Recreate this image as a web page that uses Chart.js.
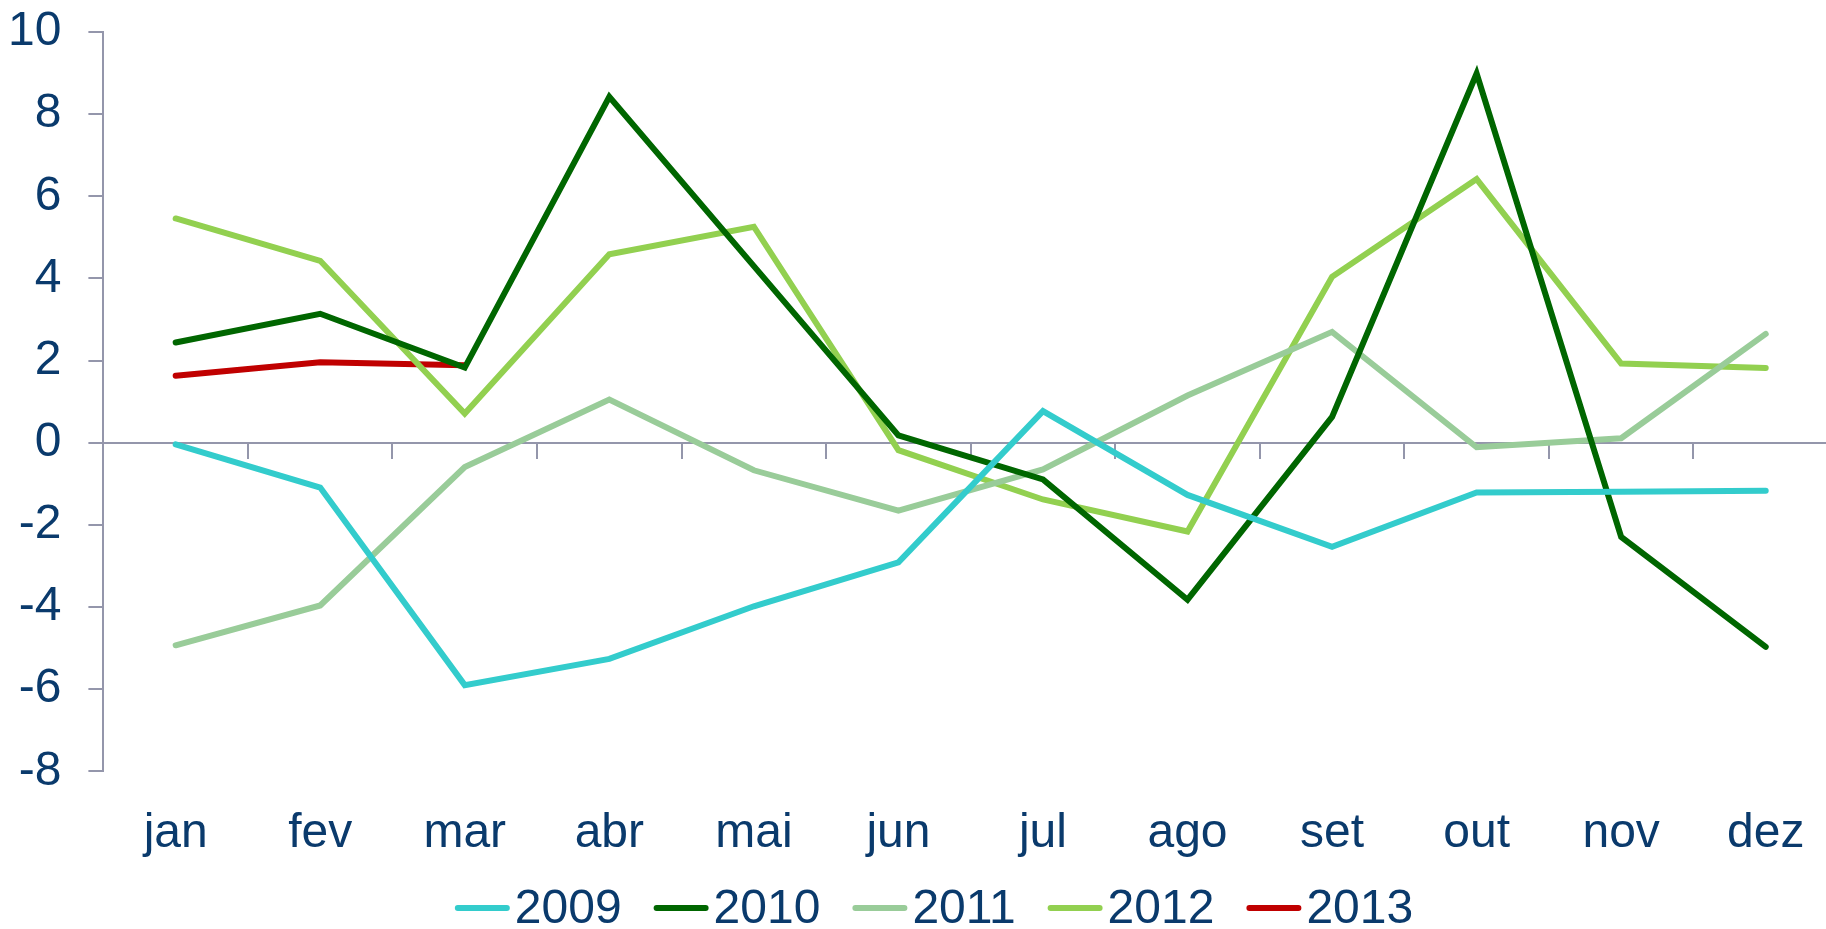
<!DOCTYPE html>
<html><head><meta charset="utf-8">
<script src="https://cdn.jsdelivr.net/npm/chart.js@4/dist/chart.umd.min.js"></script>
<style>
html,body{margin:0;padding:0;overflow:hidden;background:#fff;width:1826px;height:929px;}
#wrap{position:relative;width:1840px;height:929px;}
canvas{display:block;}
</style></head><body>
<div id="wrap"><canvas id="c" width="1840" height="929"></canvas></div>
<script>
const months = ['jan','fev','mar','abr','mai','jun','jul','ago','set','out','nov','dez'];
const yTicks = [-8,-6,-4,-2,0,2,4,6,8,10];
const seriesNames = ['2009','2010','2011','2012','2013'];
const s2009 = [-0.04,-1.09,-5.90,-5.26,-3.98,-2.91,0.77,-1.27,-2.53,-1.21,-1.19,-1.17];
const s2010 = [2.44,3.14,1.83,8.42,4.30,0.18,-0.89,-3.82,0.63,8.99,-2.29,-4.97];
const s2011 = [-4.93,-3.96,-0.59,1.05,-0.67,-1.65,-0.65,1.15,2.70,-0.11,0.11,2.65];
const s2012 = [5.46,4.43,0.71,4.59,5.26,-0.18,-1.38,-2.16,4.04,6.42,1.93,1.82];
const s2013 = [1.63,1.96,1.89];
const colors = ['#33cccc','#006600','#99cc99','#92d050','#c00000'];

const textColor = '#0a3a6c';
const axisColor = '#9496ab';
const fontFamily = '"Liberation Sans", Arial, sans-serif';
const fontSize = 48;

const allSeries = [s2009, s2010, s2011, s2012, s2013];

const legendPlugin = {
  id: 'customLegend',
  afterDraw(chart) {
    const ctx = chart.ctx;
    ctx.save();
    ctx.font = fontSize + 'px ' + fontFamily;
    const lineLen = 55, gap = 5, itemGap = 32;
    const items = chart.data.datasets.map(d => ({label: d.label, color: d.borderColor, w: ctx.measureText(d.label).width}));
    const total = items.reduce((a, it) => a + lineLen + gap + it.w, 0) + itemGap * (items.length - 1);
    let x = chart.width / 2 + 14 - total / 2;
    const y = chart.height - 21;
    items.forEach(it => {
      ctx.strokeStyle = it.color;
      ctx.lineWidth = 6;
      ctx.lineCap = 'round';
      ctx.beginPath();
      ctx.moveTo(x + 3, y);
      ctx.lineTo(x + lineLen - 3, y);
      ctx.stroke();
      ctx.fillStyle = textColor;
      ctx.textBaseline = 'middle';
      ctx.textAlign = 'left';
      ctx.fillText(it.label, x + lineLen + gap, y + 2);
      x += lineLen + gap + it.w + itemGap;
    });
    ctx.restore();
  }
};

new Chart(document.getElementById('c'), {
  type: 'line',
  data: {
    labels: months,
    datasets: allSeries.map((s, i) => ({
      label: seriesNames[i],
      data: s,
      borderColor: colors[i],
      backgroundColor: colors[i],
      borderWidth: 6,
      pointRadius: 0,
      borderCapStyle: 'round',
      fill: false,
      tension: 0
    }))
  },
  options: {
    responsive: false,
    animation: false,
    elements: {line: {borderWidth: 6}},
    layout: {padding: {top: 32, left: 8, right: 2, bottom: 66}},
    plugins: {legend: {display: false}, tooltip: {enabled: false}},
    scales: {
      y: {
        min: -8, max: 10,
        afterBuildTicks: (sc) => { sc.ticks = yTicks.map(v => ({value: v})); },
        afterFit: (sc) => { sc.width -= sc.options.ticks.padding; sc.paddingTop = 0; sc.paddingBottom = 0; },
        ticks: {font: {size: fontSize, family: fontFamily}, color: textColor, padding: 27},
        grid: {drawOnChartArea: false, drawTicks: true, tickLength: 15, color: axisColor, lineWidth: 2},
        border: {color: axisColor, width: 2}
      },
      x: {
        type: 'category', offset: true, position: {y: 0},
        ticks: {display: false},
        grid: {offset: true, drawOnChartArea: false, tickLength: 15, color: axisColor, lineWidth: 2},
        border: {color: axisColor, width: 2}
      },
      x2: {
        type: 'category', axis: 'x', labels: months, offset: true, position: 'bottom',
        afterFit: (sc) => { sc.height -= sc.options.ticks.padding; sc.paddingLeft = 0; sc.paddingRight = 0; },
        ticks: {font: {size: fontSize, family: fontFamily}, color: textColor, padding: 26, maxRotation: 0, autoSkip: false},
        grid: {display: false}, border: {display: false}
      }
    }
  },
  plugins: [legendPlugin]
});
</script>
</body></html>
